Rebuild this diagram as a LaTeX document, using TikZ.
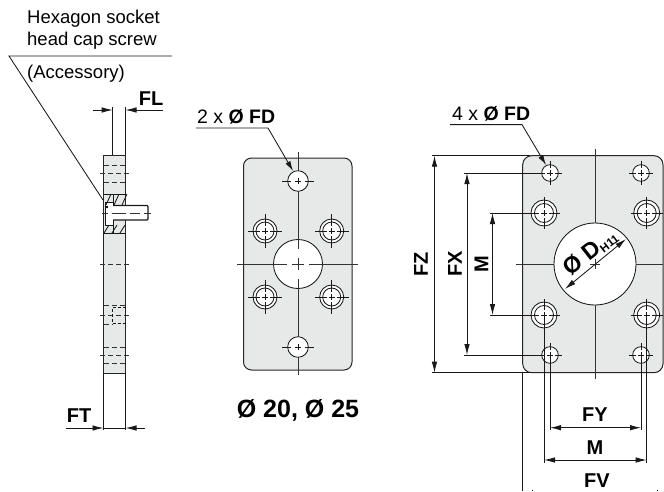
\documentclass[tikz,border=0pt]{standalone}
\usepackage{fontspec}
\setmainfont{Liberation Sans}
\usetikzlibrary{arrows.meta,calc}

\tikzset{
	plateline/.style={draw=black!85,line width=1pt,fill=platefill},
	thinline/.style={black!90,line width=0.85pt},
	axisline/.style={black!80,line width=0.9pt},
	hiddenline/.style={black!80,line width=0.9pt,dash pattern=on 5pt off 3pt},
	dimline/.style={thinline,{Latex[length=11pt,width=5.5pt]}-{Latex[length=11pt,width=5.5pt]}},
	leaderline/.style={thinline,-{Latex[length=10pt,width=5.5pt]}},
	stopline/.style={thinline,-{Latex[length=11pt,width=5.5pt]}},
	boldlabel/.style={font=\fontsize{20}{23}\selectfont\bfseries,inner sep=0pt},
	plainlabel/.style={font=\fontsize{18.5}{22}\selectfont,inner sep=0pt}
}
\definecolor{platefill}{RGB}{231,233,233}

\begin{document}
\begin{tikzpicture}[x=1pt,y=-1pt]
	\useasboundingbox (0,0) rectangle (664,491);

	% side view
	\draw[plateline] (103.5,155) rectangle (125.5,373);
	\draw[thinline,fill=white] (105,202) rectangle (113,225);
	\draw[thinline,line width=1.3pt,fill=white,rounded corners=1pt] (113,205.5) -- (148,205.5) -- (148,220) -- (113,220);
	\foreach \x in {106,114,122} {
		\draw[thinline] (\x,205) -- (\x+5,194);
		\draw[thinline] (\x-2,233) -- (\x+3,225);
	}
	\draw[thinline] (103.5,194) -- (125.5,194);
	\draw[thinline] (103.5,233) -- (125.5,233);
	\draw[thinline] (113,194) -- (113,202);
	\draw[thinline] (113,225) -- (113,233);
	\draw[axisline] (102,213) -- (108,213) (112,213) -- (126,213) (130,213) -- (140,213) (144,213) -- (151,213);
	\fill (107,207) circle [radius=1.3];
	\foreach \y in {165,182,347,363} \draw[hiddenline] (103.5,\y) -- (125.5,\y);
	\foreach \y in {173,264,315,355} \draw[hiddenline] (100,\y) -- (129,\y);
	\draw[hiddenline] (103.5,305) -- (125.5,305);
	\draw[hiddenline] (103.5,324.5) -- (112,324.5);
	\draw[thinline,densely dashed] (125.5,307) -- (112,307) -- (112,323) -- (125.5,323);

	\draw[thinline] (112.7,107) -- (112.7,155);
	\draw[thinline] (125.5,107) -- (125.5,155);
	\draw[thinline] (103.5,373) -- (103.5,430);
	\draw[thinline] (125.5,373) -- (125.5,430);
	\coordinate (flA) at (93,110);
	\coordinate (flB) at (112.7,110);
	\coordinate (flC) at (125.5,110);
	\coordinate (flD) at (163,110);
	\draw[stopline] (flA) -- (flB);
	\draw[stopline] (flD) -- (flC);
	\coordinate (ftA) at (66,428);
	\coordinate (ftB) at (103.5,428);
	\coordinate (ftC) at (125.5,428);
	\coordinate (ftD) at (145,428);
	\draw[stopline] (ftA) -- (ftB);
	\draw[thinline] (ftB) -- (ftC);
	\draw[stopline] (ftD) -- (ftC);

	\node[plainlabel,anchor=west] (hexone) at (27,19) {Hexagon socket};
	\node[plainlabel,anchor=west] (hextwo) at (27,41) {head cap screw};
	\node[plainlabel,anchor=west] (accessory) at (27,74) {(Accessory)};
	\draw[thinline] (172,56) -- (9,56) -- (103,200);
	\node[boldlabel] (fl) at (151,99) {FL};
	\node[boldlabel] (ft) at (79,415.5) {FT};

	% round 20, 25
	\draw[plateline,rounded corners=8pt] (243.5,158) rectangle (352,370);
	\draw[thinline,fill=white] (298,264) circle [radius=24.5];
	\draw[axisline] (298,152) -- (298,249) (298,258) -- (298,270) (298,279) -- (298,375);
	\draw[axisline] (237,264) -- (287,264) (292,264) -- (304,264) (309,264) -- (358,264);
	\foreach \x/\y in {298/181,298/347} {
		\begin{scope}[shift={(\x,\y)}]
			\draw[thinline,fill=white] (0,0) circle [radius=10.3];
			\draw[thinline] (-16,0) -- (-7,0) (-3,0) -- (3,0) (7,0) -- (16,0);
			\draw[thinline] (0,-3) -- (0,3);
		\end{scope}
	}
	\foreach \x/\y in {265/231,331.7/231,265/297,331.7/297} {
		\begin{scope}[shift={(\x,\y)}]
			\draw[thinline,fill=white] (0,0) circle [radius=12];
			\draw[thinline] (0,0) circle [radius=9];
			\draw[thinline] (-17,0) -- (-5,0) (-3,0) -- (3,0) (5,0) -- (17,0);
			\draw[thinline] (0,-17) -- (0,-5) (0,-3) -- (0,3) (0,5) -- (0,17);
		\end{scope}
	}
	\node[plainlabel,anchor=west,font=\fontsize{19.5}{22}\selectfont] (twofd) at (197,117) {2 x \textbf{Ø FD}};
	\coordinate (leadone) at (293,171);
	\draw[leaderline] (196,128) -- (268,128) -- (leadone);
	\node[font=\fontsize{25}{28}\selectfont\bfseries,inner sep=0pt] (smallsize) at (298,410) {Ø 20, Ø 25};

	% larger sizes
	\draw[plateline,rounded corners=9pt] (522.7,155.7) rectangle (663,372.7);
	\draw[thinline,fill=white] (595,264) circle [radius=41];
	\draw[axisline] (595,149) -- (595,223) (595,259) -- (595,269) (595,305) -- (595,379);
	\draw[axisline] (516,264) -- (554,264) (590,264) -- (600,264) (636,264) -- (663,264);
	\draw[thinline] (522.7,372.7) -- (522.7,491);
	\foreach \x/\y in {550/173,641/173,550/355,641/355} {
		\begin{scope}[shift={(\x,\y)}]
			\draw[thinline,fill=white] (0,0) circle [radius=8.3];
			\draw[thinline] (-12,0) -- (-5,0) (-3,0) -- (3,0) (5,0) -- (12,0);
			\draw[thinline] (0,-12) -- (0,-5) (0,-3) -- (0,3) (0,5) -- (0,12);
		\end{scope}
	}
	\foreach \x/\y in {544/213,646.7/213,544/315,646.7/315} {
		\begin{scope}[shift={(\x,\y)}]
			\draw[thinline,fill=white] (0,0) circle [radius=13];
			\draw[thinline] (0,0) circle [radius=9.5];
			\draw[thinline] (-16,0) -- (-5,0) (-3,0) -- (3,0) (5,0) -- (16,0);
			\draw[thinline] (0,-16) -- (0,-5) (0,-3) -- (0,3) (0,5) -- (0,16);
		\end{scope}
	}
	\draw[dimline] (565,289) -- (626,239);
	\node[font=\fontsize{23}{26}\selectfont\bfseries,inner sep=0pt,rotate=38] (bore) at (590,252) {Ø D\raisebox{-2pt}{\fontsize{11.5}{13}\selectfont H11}};

	\node[plainlabel,anchor=west,font=\fontsize{19.5}{22}\selectfont] (fourfd) at (452,114) {4 x \textbf{Ø FD}};
	\coordinate (leadtwo) at (546,165);
	\draw[leaderline] (450,124.6) -- (522,124.6) -- (leadtwo);

	\draw[thinline] (432,155.7) -- (530,155.7);
	\draw[thinline] (432,372.7) -- (530,372.7);
	\draw[thinline] (464,173) -- (541,173);
	\draw[thinline] (464,355) -- (541,355);
	\draw[thinline] (490,213) -- (531,213);
	\draw[thinline] (490,315) -- (531,315);
	\coordinate (fzTop) at (434.5,155.7);
	\coordinate (fzBot) at (434.5,372.7);
	\coordinate (fxTop) at (467,173);
	\coordinate (fxBot) at (467,355);
	\coordinate (mTop) at (492.5,213);
	\coordinate (mBot) at (492.5,315);
	\draw[dimline] (fzTop) -- (fzBot);
	\draw[dimline] (fxTop) -- (fxBot);
	\draw[dimline] (mTop) -- (mBot);
	\node[boldlabel,rotate=90] (fz) at (421,264) {FZ};
	\node[boldlabel,rotate=90] (fx) at (455,264) {FX};
	\node[boldlabel,rotate=90] (mleft) at (481.5,264) {M};

	\draw[thinline] (550,355) -- (550,430);
	\draw[thinline] (641,355) -- (641,430);
	\draw[thinline] (544,315) -- (544,463);
	\draw[thinline] (646.7,315) -- (646.7,463);
	\coordinate (fyL) at (550,427.7);
	\coordinate (fyR) at (641,427.7);
	\coordinate (mL) at (544,460);
	\coordinate (mR) at (646.7,460);
	\draw[dimline] (fyL) -- (fyR);
	\draw[dimline] (mL) -- (mR);
	\node[boldlabel] (fy) at (595,415) {FY};
	\node[boldlabel] (mbot) at (595,448) {M};
	\node[boldlabel] (fv) at (597,481) {FV};
	\draw[thinline] (532,489.5) -- (532,491);
	\draw[thinline] (657,489.5) -- (657,491);
\end{tikzpicture}
\end{document}
